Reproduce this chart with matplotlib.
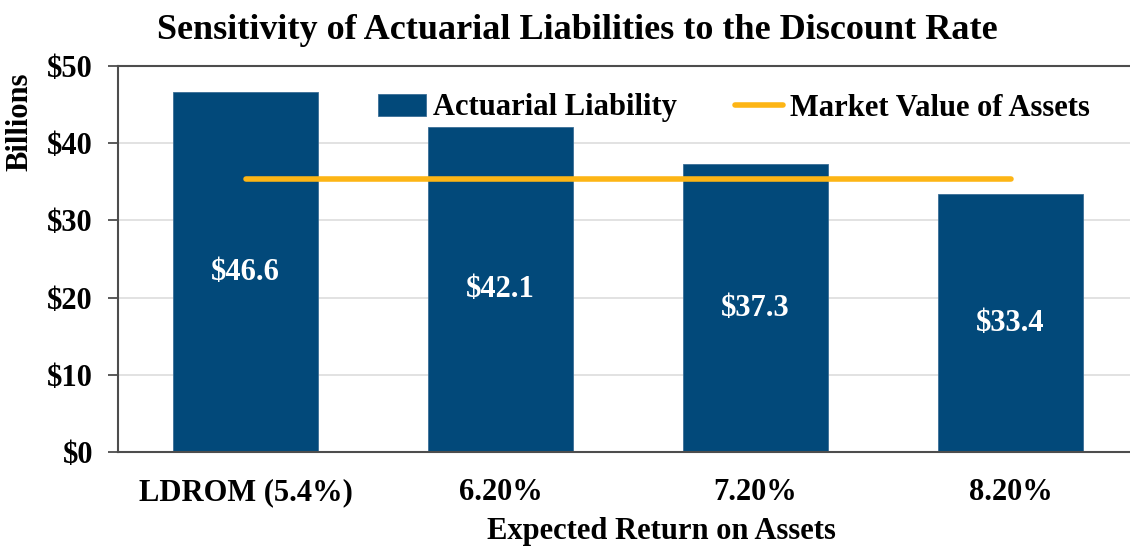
import matplotlib
matplotlib.use("Agg")
import matplotlib.pyplot as plt
from matplotlib.ticker import FuncFormatter

categories = ["LDROM (5.4%)", "6.20%", "7.20%", "8.20%"]
liability = [46.6, 42.1, 37.3, 33.4]
assets = [35.4, 35.4, 35.4, 35.4]
bar_labels = ["$46.6", "$42.1", "$37.3", "$33.4"]

plt.rcParams['font.family'] = ['Liberation Serif', 'DejaVu Serif']
plt.rcParams['font.weight'] = 'bold'

fig = plt.figure(figsize=(11.3, 5.47), dpi=100)
ax = fig.add_axes([118/1130, 95/547, 1020/1130, 386/547])

bar_color = '#02497A'
line_color = '#FDB515'
x = list(range(len(categories)))
bars = ax.bar(x, liability, width=0.57, color=bar_color, edgecolor='#3A6E96', linewidth=0.6,
              label='Actuarial Liability', zorder=2)
line, = ax.plot(x, assets, color=line_color, linewidth=4.0, solid_capstyle='round',
                label='Market Value of Assets', zorder=3)

for xi, v, lab in zip(x, liability, bar_labels):
    ax.text(xi, v / 2, lab, ha='center', va='center', color='white',
            fontsize=22, fontweight='bold', zorder=4)

ax.set_xlim(-0.5, 3.5)
ax.set_ylim(0, 50)
ax.set_yticks([0, 10, 20, 30, 40, 50])
ax.yaxis.set_major_formatter(FuncFormatter(lambda v, p: f"${v:.0f}"))
ax.grid(axis='y', color='#DDDDDD', linewidth=1.2, zorder=0)
ax.set_axisbelow(True)

for s in ['left', 'bottom', 'top']:
    ax.spines[s].set_color('#4D4D4D')
    ax.spines[s].set_linewidth(1.5)
ax.spines['right'].set_visible(False)

ax.tick_params(axis='y', length=7, width=1.3, color='#4D4D4D', labelsize=22, pad=11)
ax.tick_params(axis='x', length=0, labelsize=22, pad=19)
ax.set_xticks(x)
ax.set_xticklabels(categories, fontweight='bold')
for t in ax.get_yticklabels():
    t.set_fontweight('bold')

ax.set_xlabel('Expected Return on Assets', fontsize=22, fontweight='bold')
ax.xaxis.set_label_coords((661 - 118) / 1020, -(517 - 452) / 386)
ax.set_ylabel('Billions', fontsize=22, fontweight='bold')
ax.yaxis.set_label_coords((34 - 118) / 1020, (452 - 122) / 386)

fig.suptitle('Sensitivity of Actuarial Liabilities to the Discount Rate',
             x=577/1130, y=1 - 14/547, va='top', fontsize=26, fontweight='bold')

leg = ax.legend([bars, line], ['Actuarial Liability', 'Market Value of Assets'],
                loc='center', bbox_to_anchor=(734/1130, 1 - 108/547),
                bbox_transform=fig.transFigure, ncol=2, frameon=False,
                handlelength=1.57, handletextpad=0.23, borderaxespad=0,
                columnspacing=1.9, prop={'weight': 'bold', 'size': 22})

fig.savefig('out.png', dpi=100)
